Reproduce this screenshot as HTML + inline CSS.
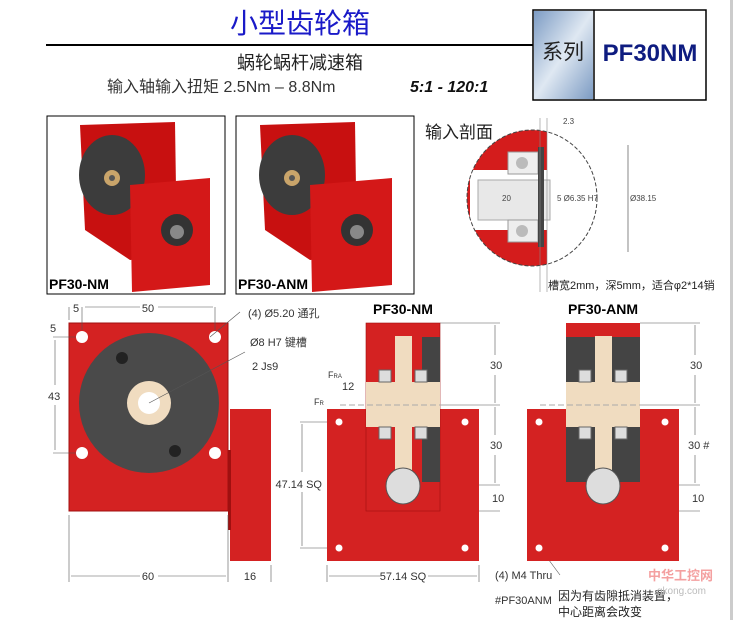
<!DOCTYPE html>
<html><head><meta charset="utf-8"><style>
html,body{margin:0;padding:0;background:#fff;}
svg{display:block;font-family:"Liberation Sans","Noto Sans CJK SC",sans-serif;}
</style></head><body>
<svg width="733" height="620" viewBox="0 0 733 620">
<defs>
<linearGradient id="bg" x1="0" y1="0" x2="1" y2="1">
<stop offset="0" stop-color="#7d9cc4"/><stop offset="0.5" stop-color="#dfe8f2"/><stop offset="1" stop-color="#7c9bc3"/></linearGradient>
</defs>
<rect x="730" y="0" width="3" height="620" fill="#ccc"/>
<text x="300" y="33" font-size="28" fill="#1a1ac8" text-anchor="middle">小型齿轮箱</text>
<line x1="46" y1="45" x2="533" y2="45" stroke="#000" stroke-width="2"/>
<rect x="533" y="10" width="173" height="90" fill="#fff" stroke="#000" stroke-width="1.5"/>
<rect x="534" y="11" width="59" height="88" fill="url(#bg)"/>
<line x1="594" y1="10" x2="594" y2="100" stroke="#000" stroke-width="1.5"/>
<text x="563" y="59" font-size="21" text-anchor="middle" fill="#222">系列</text>
<text x="650" y="61" font-size="24" font-weight="bold" text-anchor="middle" fill="#0e1c80">PF30NM</text>
<text x="300" y="69" font-size="18" text-anchor="middle" fill="#222">蜗轮蜗杆减速箱</text>
<text x="107" y="92" font-size="16" fill="#333">输入轴输入扭矩 2.5Nm – 8.8Nm</text>
<text x="410" y="92" font-size="16" font-style="italic" font-weight="bold" fill="#111">5:1 - 120:1</text>

<g>
<rect x="47" y="116" width="178" height="178" fill="#fff" stroke="#000"/>
<path d="M80 125 L175 122 L177 255 L130 260 L85 230 Z" fill="#c81010"/>
<ellipse cx="112" cy="175" rx="33" ry="40" fill="#3c3c3c"/>
<circle cx="112" cy="178" r="8" fill="#c9a46a"/><circle cx="112" cy="178" r="3" fill="#555"/>
<path d="M130 185 L210 178 L210 285 L132 292 Z" fill="#d41818"/>
<circle cx="177" cy="230" r="16" fill="#333"/><circle cx="177" cy="232" r="7" fill="#888"/>
<text x="49" y="289" font-size="14" font-weight="bold">PF30-NM</text>
</g>
<g>
<rect x="236" y="116" width="178" height="178" fill="#fff" stroke="#000"/>
<path d="M260 125 L355 122 L357 255 L310 260 L265 230 Z" fill="#c81010"/>
<ellipse cx="292" cy="175" rx="33" ry="40" fill="#3c3c3c"/>
<circle cx="292" cy="178" r="8" fill="#c9a46a"/><circle cx="292" cy="178" r="3" fill="#555"/>
<path d="M310 185 L392 178 L392 285 L312 292 Z" fill="#d41818"/>
<circle cx="357" cy="230" r="16" fill="#333"/><circle cx="357" cy="232" r="7" fill="#888"/>
<text x="238" y="289" font-size="14" font-weight="bold">PF30-ANM</text>
</g>

<text x="425" y="138" font-size="17" fill="#222">输入剖面</text>
<clipPath id="cc"><ellipse cx="532" cy="198" rx="65" ry="68"/></clipPath>
<g clip-path="url(#cc)">
<rect x="460" y="130" width="140" height="140" fill="#fff"/>
<rect x="460" y="130" width="87" height="140" fill="#d41c1c"/>
<rect x="470" y="170" width="80" height="60" fill="#fff"/>
<rect x="478" y="180" width="72" height="40" fill="#e8e8e8" stroke="#aaa"/>
<rect x="508" y="152" width="30" height="22" fill="#eee" stroke="#999"/>
<rect x="508" y="220" width="30" height="22" fill="#eee" stroke="#999"/>
<circle cx="522" cy="163" r="6" fill="#bbb"/><circle cx="522" cy="231" r="6" fill="#bbb"/>
<rect x="538" y="147" width="6" height="100" fill="#444"/>
</g>
<ellipse cx="532" cy="198" rx="65" ry="68" fill="none" stroke="#444" stroke-dasharray="4 2"/>
<line x1="540" y1="118" x2="540" y2="292" stroke="#888" stroke-width="0.6"/>
<line x1="547" y1="118" x2="547" y2="292" stroke="#888" stroke-width="0.6"/>
<text x="563" y="124" font-size="8" fill="#444">2.3</text>
<line x1="628" y1="145" x2="628" y2="252" stroke="#555" stroke-width="0.7"/>
<text x="630" y="201" font-size="8" fill="#444">Ø38.15</text>
<text x="502" y="201" font-size="8" fill="#444">20</text>
<text x="557" y="201" font-size="8" fill="#444">5  Ø6.35 H7</text>
<text x="548" y="289" font-size="11" fill="#222">槽宽2mm，深5mm，适合φ2*14销</text>

<rect x="69" y="323" width="159" height="188" fill="#d42222" stroke="#a01010"/>
<circle cx="149" cy="403" r="70" fill="#4a4a4a"/>
<circle cx="149" cy="403" r="22" fill="#f0dcc0"/>
<circle cx="149" cy="403" r="11" fill="#fff"/>
<circle cx="82" cy="337" r="6" fill="#fff"/><circle cx="215" cy="337" r="6" fill="#fff"/>
<circle cx="82" cy="453" r="6" fill="#fff"/><circle cx="215" cy="453" r="6" fill="#fff"/>
<circle cx="122" cy="358" r="6" fill="#222"/><circle cx="175" cy="451" r="6" fill="#222"/>
<rect x="230" y="409" width="41" height="152" fill="#d42222"/>
<rect x="228" y="450" width="3" height="80" fill="#a01010"/>
<g font-size="11" fill="#333">
<text x="148" y="312" text-anchor="middle">50</text>
<text x="73" y="312">5</text>
<text x="50" y="332">5</text>
<text x="48" y="400">43</text>
<text x="148" y="580" text-anchor="middle">60</text>
<text x="250" y="580" text-anchor="middle">16</text>
<text x="248" y="317">(4) Ø5.20  通孔</text>
<text x="250" y="346">Ø8 H7  键槽</text>
<text x="252" y="370">2 Js9</text>
<text x="322" y="488" text-anchor="end">47.14 SQ</text>
<text x="403" y="580" text-anchor="middle">57.14 SQ</text>
<text x="490" y="369">30</text><text x="490" y="449">30</text><text x="492" y="502">10</text>
<text x="690" y="369">30</text><text x="688" y="449">30 #</text><text x="692" y="502">10</text>
<text x="342" y="390">12</text>
<text x="328" y="378" font-size="9">F<tspan font-size="6">RA</tspan></text>
<text x="314" y="405" font-size="9">F<tspan font-size="6">R</tspan></text>
<text x="495" y="579">(4) M4 Thru</text>
<text x="495" y="604">#PF30ANM</text>
</g>
<g stroke="#555" stroke-width="0.6" fill="none">
<line x1="69" y1="307" x2="69" y2="320"/><line x1="82" y1="307" x2="82" y2="330"/>
<line x1="215" y1="307" x2="215" y2="330"/>
<line x1="85" y1="307" x2="140" y2="307"/><line x1="158" y1="307" x2="213" y2="307"/>
<line x1="53" y1="337" x2="76" y2="337"/><line x1="53" y1="453" x2="76" y2="453"/>
<line x1="55" y1="340" x2="55" y2="385"/><line x1="55" y1="405" x2="55" y2="450"/>
<line x1="69" y1="515" x2="69" y2="582"/><line x1="228" y1="515" x2="228" y2="582"/><line x1="271" y1="565" x2="271" y2="582"/>
<line x1="71" y1="576" x2="140" y2="576"/><line x1="158" y1="576" x2="226" y2="576"/>
<line x1="210" y1="337" x2="240" y2="312"/><line x1="149" y1="403" x2="245" y2="352"/>
<line x1="327" y1="565" x2="327" y2="582"/><line x1="479" y1="565" x2="479" y2="582"/>
<line x1="329" y1="576" x2="380" y2="576"/><line x1="428" y1="576" x2="477" y2="576"/>
<line x1="300" y1="422" x2="339" y2="422"/><line x1="300" y1="548" x2="339" y2="548"/>
<line x1="302" y1="424" x2="302" y2="472"/><line x1="302" y1="492" x2="302" y2="546"/>
<line x1="440" y1="323" x2="500" y2="323"/><line x1="440" y1="405" x2="500" y2="405"/>
<line x1="410" y1="485" x2="500" y2="485"/><line x1="440" y1="511" x2="500" y2="511"/>
<line x1="495" y1="325" x2="495" y2="355"/><line x1="495" y1="375" x2="495" y2="403"/>
<line x1="495" y1="407" x2="495" y2="435"/><line x1="495" y1="455" x2="495" y2="483"/>
<line x1="640" y1="323" x2="700" y2="323"/><line x1="640" y1="405" x2="700" y2="405"/>
<line x1="610" y1="485" x2="700" y2="485"/><line x1="640" y1="511" x2="700" y2="511"/>
<line x1="695" y1="325" x2="695" y2="355"/><line x1="695" y1="375" x2="695" y2="403"/>
<line x1="695" y1="407" x2="695" y2="435"/><line x1="695" y1="455" x2="695" y2="483"/>
<line x1="540" y1="548" x2="560" y2="575"/>
</g>

<g>
<text x="403" y="314" font-size="14" font-weight="bold" text-anchor="middle">PF30-NM</text>
<rect x="327" y="409" width="152" height="152" fill="#d42222"/>
<rect x="366" y="323" width="74" height="188" fill="#d42222" stroke="#a01010" stroke-width="0.6"/>
<rect x="422" y="337" width="18" height="45" fill="#444"/>
<rect x="422" y="427" width="18" height="55" fill="#444"/>
<rect x="395" y="336" width="17" height="134" fill="#f0dcc0"/>
<rect x="366" y="382" width="74" height="45" fill="#f0dcc0"/>
<line x1="340" y1="405" x2="470" y2="405" stroke="#aaa" stroke-dasharray="6 3"/>
<rect x="379" y="370" width="12" height="12" fill="#ddd" stroke="#666"/><rect x="415" y="370" width="12" height="12" fill="#ddd" stroke="#666"/>
<rect x="379" y="427" width="12" height="12" fill="#ddd" stroke="#666"/><rect x="415" y="427" width="12" height="12" fill="#ddd" stroke="#666"/>
<ellipse cx="403" cy="486" rx="17" ry="18" fill="#ddd" stroke="#555"/>
<circle cx="339" cy="422" r="3.5" fill="#fff"/><circle cx="465" cy="422" r="3.5" fill="#fff"/>
<circle cx="339" cy="548" r="3.5" fill="#fff"/><circle cx="465" cy="548" r="3.5" fill="#fff"/>
</g>
<g transform="translate(200,0)">
<text x="403" y="314" font-size="14" font-weight="bold" text-anchor="middle">PF30-ANM</text>
<rect x="327" y="409" width="152" height="152" fill="#d42222"/>
<rect x="366" y="323" width="74" height="188" fill="#d42222"/>
<rect x="366" y="337" width="74" height="45" fill="#444"/>
<rect x="366" y="427" width="74" height="55" fill="#444"/>
<rect x="395" y="336" width="17" height="134" fill="#f0dcc0"/>
<rect x="366" y="382" width="74" height="45" fill="#f0dcc0"/>
<line x1="340" y1="405" x2="470" y2="405" stroke="#aaa" stroke-dasharray="6 3"/>
<rect x="379" y="370" width="12" height="12" fill="#ddd" stroke="#666"/><rect x="415" y="370" width="12" height="12" fill="#ddd" stroke="#666"/>
<rect x="379" y="427" width="12" height="12" fill="#ddd" stroke="#666"/><rect x="415" y="427" width="12" height="12" fill="#ddd" stroke="#666"/>
<ellipse cx="403" cy="486" rx="17" ry="18" fill="#ddd" stroke="#555"/>
<circle cx="339" cy="422" r="3.5" fill="#fff"/><circle cx="465" cy="422" r="3.5" fill="#fff"/>
<circle cx="339" cy="548" r="3.5" fill="#fff"/><circle cx="465" cy="548" r="3.5" fill="#fff"/>
</g>
<text x="558" y="600" font-size="12" fill="#222">因为有齿隙抵消装置，</text>
<text x="558" y="616" font-size="12" fill="#222">中心距离会改变</text>
<text x="648" y="580" font-size="13" font-weight="bold" fill="#f4a0a0">中华工控网</text>
<text x="657" y="594" font-size="10" fill="#bbb">gkong.com</text>
</svg>
</body></html>
